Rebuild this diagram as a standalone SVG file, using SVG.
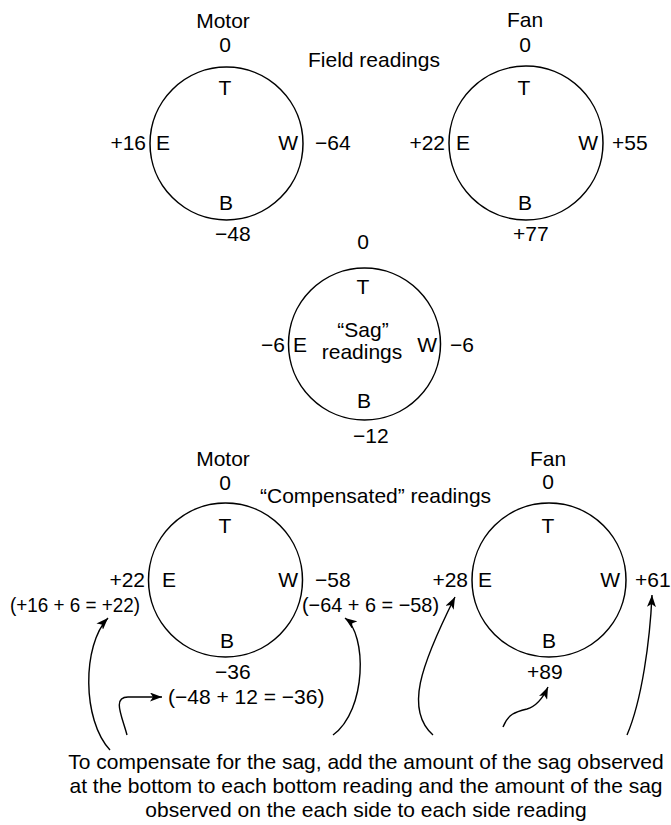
<svg xmlns="http://www.w3.org/2000/svg" width="671" height="825" viewBox="0 0 671 825">
<style>
text{font-family:"Liberation Sans",Arial,Helvetica,sans-serif;font-size:21px;fill:#000}
.m{text-anchor:middle}
.e{text-anchor:end}
.c{fill:none;stroke:#000;stroke-width:1.5}
.a{fill:none;stroke:#000;stroke-width:1.4;marker-end:url(#ah)}
</style>
<defs>
<marker id="ah" viewBox="0 0 12 9" refX="12" refY="4.5" markerUnits="userSpaceOnUse" markerWidth="12" markerHeight="9" orient="auto">
<path d="M0,0 L12,4.5 L0,9 L3,4.5 z" fill="#000"/>
</marker>
</defs>
<rect width="671" height="825" fill="#fff"/>
<g id="field-motor">
<text class="m" x="223" y="28">Motor</text>
<text class="m" x="225" y="52">0</text>
<circle class="c" cx="226.5" cy="143.5" r="76.5"/>
<text class="m" x="225" y="95">T</text>
<text x="156" y="150">E</text>
<text class="e" x="298" y="150">W</text>
<text class="m" x="226" y="210">B</text>
<text class="e" x="146" y="150">+16</text>
<text x="315" y="150">−64</text>
<text x="215" y="241">−48</text>
</g>
<g id="field-label">
<text x="308" y="67">Field readings</text>
</g>
<g id="field-fan">
<text class="m" x="525" y="27">Fan</text>
<text class="m" x="525" y="52">0</text>
<circle class="c" cx="526" cy="143" r="77"/>
<text class="m" x="524" y="95">T</text>
<text x="456" y="150">E</text>
<text class="e" x="598" y="150">W</text>
<text class="m" x="525" y="210">B</text>
<text class="e" x="445" y="150">+22</text>
<text x="612" y="150">+55</text>
<text x="513" y="241">+77</text>
</g>
<g id="sag">
<text class="m" x="363" y="249">0</text>
<circle class="c" cx="364.5" cy="344" r="76"/>
<text class="m" x="363" y="294">T</text>
<text class="m" x="363" y="337">“Sag”</text>
<text class="m" x="362" y="359">readings</text>
<text x="293" y="352">E</text>
<text class="e" x="437" y="352">W</text>
<text class="m" x="364" y="408">B</text>
<text class="e" x="285" y="352">−6</text>
<text x="450" y="352">−6</text>
<text x="353" y="443">−12</text>
</g>
<g id="comp-motor">
<text class="m" x="223" y="466">Motor</text>
<text class="m" x="225" y="490">0</text>
<circle class="c" cx="225.5" cy="580" r="77"/>
<text class="m" x="225" y="533">T</text>
<text x="162" y="587">E</text>
<text class="e" x="298" y="587">W</text>
<text class="m" x="227" y="648">B</text>
<text class="e" x="145" y="587">+22</text>
<text x="10" y="612" textLength="130" lengthAdjust="spacingAndGlyphs">(+16 + 6 = +22)</text>
<text x="315" y="587">−58</text>
<text x="302" y="612" textLength="137" lengthAdjust="spacingAndGlyphs">(−64 + 6 = −58)</text>
<text x="215" y="679">−36</text>
<text x="168" y="704">(−48 + 12 = −36)</text>
</g>
<g id="comp-label">
<text x="260" y="503">“Compensated” readings</text>
</g>
<g id="comp-fan">
<text class="m" x="548" y="466">Fan</text>
<text class="m" x="548" y="489">0</text>
<circle class="c" cx="549" cy="580" r="77"/>
<text class="m" x="548" y="533">T</text>
<text x="478" y="587">E</text>
<text class="e" x="620" y="587">W</text>
<text class="m" x="549" y="648">B</text>
<text class="e" x="468" y="587">+28</text>
<text x="635" y="587">+61</text>
<text x="527" y="679">+89</text>
</g>
<g id="note">
<text class="m" x="366" y="769">To compensate for the sag, add the amount of the sag observed</text>
<text class="m" x="366" y="793">at the bottom to each bottom reading and the amount of the sag</text>
<text class="m" x="366" y="817">observed on the each side to each side reading</text>
</g>
<g id="connectors">
<path class="a" d="M110,750 C82,720 82,645 108,618"/>
<path class="a" d="M127,735 C122,716 112,697 128,697 L162,697"/>
<path class="a" d="M333,735 C367,710 367,634 345,618"/>
<path class="a" d="M433,735 C405,710 420,667 455,597"/>
<path class="a" d="M503,727 C508,714 515,712 527,709 C537,706 543,698 548,687"/>
<path class="a" d="M627,735 C642,700 650,640 652,595"/>
</g>
</svg>
